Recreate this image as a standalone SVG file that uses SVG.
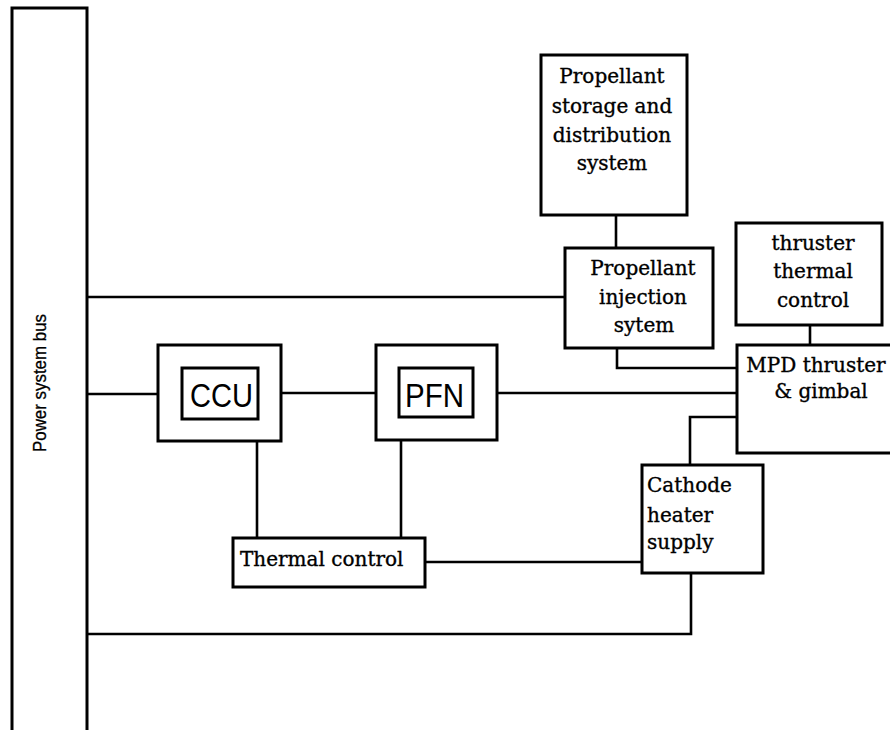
<svg xmlns="http://www.w3.org/2000/svg" width="890" height="730" viewBox="0 0 890 730">
<style>
.box{fill:#fff;stroke:#000;stroke-width:3}
.wire{fill:none;stroke:#000;stroke-width:2.6;stroke-linejoin:miter}
.t{font-family:"DejaVu Serif","Liberation Serif",serif;font-size:20px;fill:#000;stroke:#000;stroke-width:0.35}
.m{text-anchor:middle}
.s{font-family:"Liberation Sans",Arial,sans-serif;font-size:33px;fill:#000}
.bus{font-family:"Liberation Sans",Arial,sans-serif;font-size:19px;fill:#000;stroke:#000;stroke-width:0.3}
</style>
<rect width="890" height="730" fill="#fff"/>
<g id="connectors">
<path class="wire" d="M87 297 H565"/>
<path class="wire" d="M87 394 H158"/>
<path class="wire" d="M281 393 H376"/>
<path class="wire" d="M497 393 H737"/>
<path class="wire" d="M257 441 V538"/>
<path class="wire" d="M401 440 V538"/>
<path class="wire" d="M425 562 H642"/>
<path class="wire" d="M616 215 V248"/>
<path class="wire" d="M617 348 V368 H737"/>
<path class="wire" d="M810 325 V345"/>
<path class="wire" d="M690 465 V417 H737"/>
<path class="wire" d="M691 573 V634 H87"/>
</g>
<g id="bus">
<path class="wire" d="M12 735 V8 H87 V735" style="stroke-width:3"/>
<text class="bus" transform="translate(46 383) rotate(-90)" text-anchor="middle" textLength="138" lengthAdjust="spacingAndGlyphs">Power system bus</text>
</g>
<g id="ccu">
<rect class="box" x="158" y="345" width="123" height="96"/>
<rect class="box" x="182" y="368" width="76" height="51"/>
<text class="s" x="190" y="407" textLength="63" lengthAdjust="spacingAndGlyphs">CCU</text>
</g>
<g id="pfn">
<rect class="box" x="376" y="345" width="121" height="95"/>
<rect class="box" x="399" y="368" width="74" height="49"/>
<text class="s" x="405" y="407" textLength="59" lengthAdjust="spacingAndGlyphs">PFN</text>
</g>
<g id="thermal">
<rect class="box" x="233" y="538" width="192" height="49"/>
<text class="t" x="240" y="566">Thermal control</text>
</g>
<g id="storage">
<rect class="box" x="541" y="55" width="146" height="160"/>
<text class="t m" x="612" y="83">Propellant</text>
<text class="t m" x="612" y="113">storage and</text>
<text class="t m" x="612" y="142">distribution</text>
<text class="t m" x="612" y="170">system</text>
</g>
<g id="injection">
<rect class="box" x="565" y="248" width="148" height="100"/>
<text class="t m" x="643" y="275">Propellant</text>
<text class="t m" x="643" y="304">injection</text>
<text class="t m" x="644" y="332">sytem</text>
</g>
<g id="thruster-thermal">
<rect class="box" x="736" y="223" width="146" height="102"/>
<text class="t m" x="813" y="250">thruster</text>
<text class="t m" x="813" y="278">thermal</text>
<text class="t m" x="813" y="307">control</text>
</g>
<g id="mpd">
<rect class="box" x="737" y="345" width="170" height="108"/>
<text class="t m" x="816" y="372">MPD thruster</text>
<text class="t m" x="821" y="398">&amp; gimbal</text>
</g>
<g id="cathode">
<rect class="box" x="642" y="465" width="121" height="108"/>
<text class="t" x="647" y="492">Cathode</text>
<text class="t" x="647" y="522">heater</text>
<text class="t" x="647" y="549">supply</text>
</g>
</svg>
